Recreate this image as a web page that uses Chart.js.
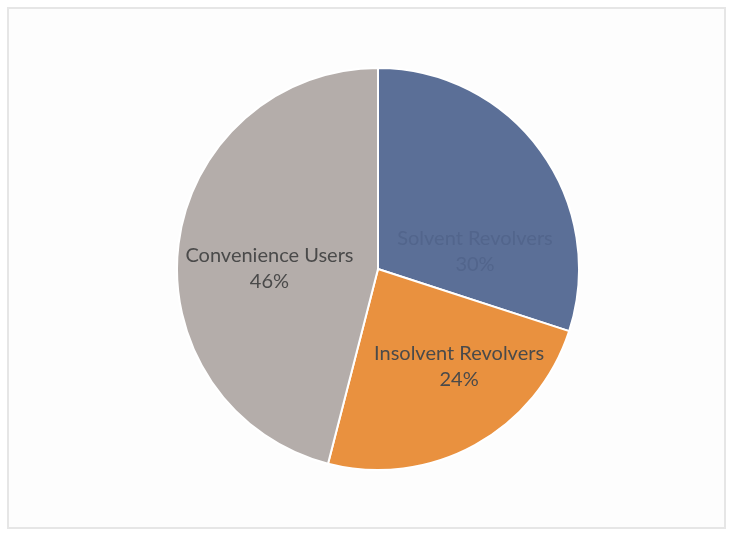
<!DOCTYPE html>
<html>
<head>
<meta charset="utf-8">
<script src="https://cdn.jsdelivr.net/npm/chart.js@4"></script>
<style>
  html, body { margin: 0; padding: 0; background: #ffffff; }
  body { width: 730px; height: 538px; position: relative; overflow: hidden; }
  #frame {
    position: absolute; left: 7px; top: 7px; width: 719px; height: 522px;
    border: 2px solid #e6e6e6; background: #fdfdfd; box-sizing: border-box;
  }
  #wrap { position: absolute; left: 176px; top: 67px; width: 404px; height: 404px; }
</style>
</head>
<body>
<div id="frame"></div>
<div id="wrap"><canvas id="myChart"></canvas></div>
<script>
// slices go clockwise from 12 o'clock
const labels = [
    'Solvent Revolvers',
    'Insolvent Revolvers',
    'Convenience Users',
];

const shares = [30, 24, 46];

const sliceColors = ['#5b6f97', '#e9913f', '#b4adaa'];
// text on the blue slice is barely visible in the original
const textColors = ['#52658c', '#4a4a4a', '#4a4a4a'];

// where the text sits inside each slice (angle shift in degrees, share of radius)
const labelSpots = [
    { shift: 26, frac: 0.49 },
    { shift: -11, frac: 0.63 },
    { shift: -7.2, frac: 0.54 },
];

const sliceLabels = {
    id: 'sliceLabels',
    afterDatasetsDraw(chart) {
        const ctx = chart.ctx;
        const meta = chart.getDatasetMeta(0);
        const total = shares.reduce((a, b) => a + b, 0);
        ctx.save();
        ctx.font = '20px Lato';
        ctx.textAlign = 'center';
        ctx.textBaseline = 'middle';
        meta.data.forEach((arc, i) => {
            const p = arc.getProps(['x', 'y', 'startAngle', 'endAngle', 'outerRadius'], true);
            const a = (p.startAngle + p.endAngle) / 2 + labelSpots[i].shift * Math.PI / 180;
            const d = p.outerRadius * labelSpots[i].frac;
            const x = p.x + Math.cos(a) * d;
            const y = p.y + Math.sin(a) * d;
            const pct = Math.round(shares[i] / total * 100) + '%';
            ctx.fillStyle = textColors[i];
            ctx.fillText(labels[i], x, y - 13);
            ctx.fillText(pct, x, y + 13);
        });
        ctx.restore();
    }
};

const data = {
    labels: labels,
    datasets: [{
        data: shares,
        backgroundColor: sliceColors,
        borderColor: '#ffffff',
        borderWidth: 2,
    }]
};

const config = {
    type: 'pie',
    data: data,
    options: {
        responsive: true,
        maintainAspectRatio: false,
        animation: false,
        plugins: {
            legend: { display: false },
            tooltip: { enabled: false },
        },
    },
    plugins: [sliceLabels],
};

const myChart = new Chart(
    document.getElementById('myChart'),
    config
);
</script>
</body>
</html>
